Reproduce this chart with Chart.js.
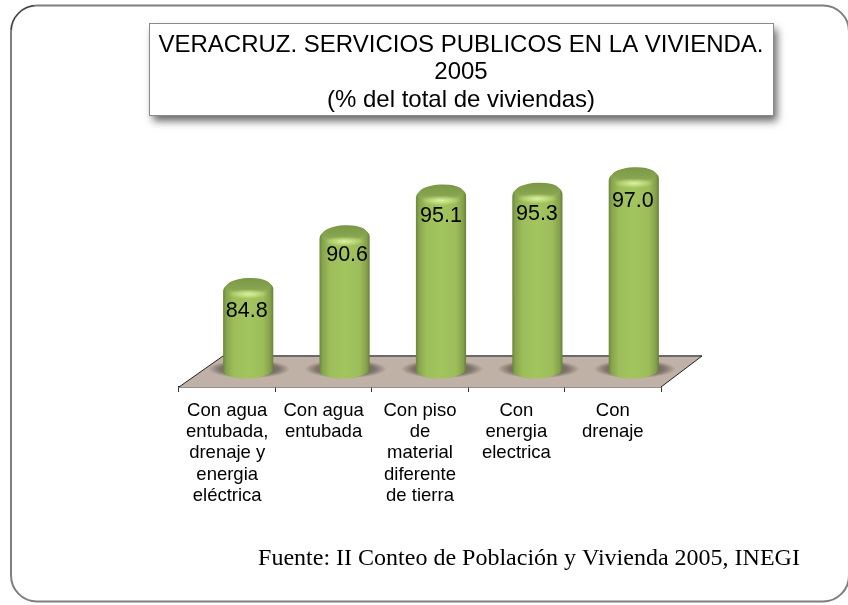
<!DOCTYPE html>
<html><head><meta charset="utf-8">
<style>html,body{margin:0;padding:0;background:#fff;overflow:hidden}#w{width:848px;height:605px;position:relative}</style>
<script src="https://cdn.jsdelivr.net/npm/chart.js@4"></script>
</head><body><div id="w"><canvas id="c" width="848" height="605"></canvas></div>
<script>
const categories = [
  ["Con agua","entubada,","drenaje y","energia","eléctrica"],
  ["Con agua","entubada"],
  ["Con piso","de","material","diferente","de tierra"],
  ["Con","energia","electrica"],
  ["Con","drenaje"]
];
const values = [84.8, 90.6, 95.1, 95.3, 97.0];
const axisMin = 75, axisMax = 100;
const titleLines = ["VERACRUZ. SERVICIOS PUBLICOS EN LA VIVIENDA.","2005","(% del total de viviendas)"];
const sourceNote = "Fuente: II Conteo de Población y Vivienda 2005, INEGI";

const depthX = 21, topLift = 11, baseLift = 17, floorDepth = 31, floorDx = 44, floorDxR = 41;
const labelNudgeX = [-1.5, 2.5, 0, -0.5, -1], labelNudgeY = [24, 21, 23, 22, 25];

const decor = {
  id:'decor',
  afterLayout(chart){
    const t = chart.titleBlock; t.left = 149; t.right = 773; t.top = 6.5;
    const s = chart.boxes.find(b=>b.options&&b.options.text===sourceNote);
    if(s){ s.left = 258; s.right = 800; s.top = 544.6; s.bottom = 573.4; }
  },
  beforeDraw(chart){
    const ctx = chart.ctx;
    ctx.save();
    ctx.fillStyle='#fff';ctx.fillRect(0,0,848,605);
    ctx.lineWidth=2;ctx.strokeStyle='#7f7f7f';
    ctx.beginPath();ctx.roundRect(11,5.5,838,596,26);ctx.stroke();
    ctx.lineWidth=1;ctx.strokeStyle='#333';
    ctx.beginPath();ctx.arc(37,31.5,26,Math.PI*1.02,Math.PI*1.46);ctx.stroke();
    ctx.save();
    ctx.shadowColor='rgba(0,0,0,.6)';ctx.shadowBlur=8;ctx.shadowOffsetX=4;ctx.shadowOffsetY=6;
    ctx.fillStyle='#fff';ctx.fillRect(149,23,624,92);
    ctx.restore();
    ctx.strokeStyle='#8a8a8a';ctx.lineWidth=1;ctx.strokeRect(149.5,23.5,624,92);
    ctx.restore();
  },
  beforeDatasetsDraw(chart){
    const ctx = chart.ctx, a = chart.chartArea;
    const L=a.left,R=a.right,B=a.bottom,T=B-floorDepth;
    ctx.save();
    ctx.beginPath();ctx.moveTo(L,B);ctx.lineTo(L+floorDx,T);ctx.lineTo(R+floorDxR,T);ctx.lineTo(R,B);ctx.closePath();
    ctx.fillStyle='#bfb1a5';ctx.fill();
    ctx.strokeStyle='#6a6a6a';ctx.lineWidth=2;
    ctx.beginPath();ctx.moveTo(L+floorDx,T);ctx.lineTo(R+floorDxR,T);ctx.stroke();
    ctx.strokeStyle='#222';ctx.lineWidth=1;
    ctx.beginPath();ctx.moveTo(L,B);ctx.lineTo(L+floorDx,T);ctx.moveTo(R,B);ctx.lineTo(R+floorDxR,T);ctx.stroke();
    ctx.restore();
  },
  beforeDatasetDraw(chart,args){
    const ctx = chart.ctx, meta = args.meta;
    meta.data.forEach(el=>{
      const cx = el.x+depthX, rx = el.width/2, top = el.y-topLift, bot = el.base-baseLift, ry = 8.5, tilt=-0.045;
      ctx.save();
      // shadow on the floor
      ctx.save();
      ctx.translate(cx+1,bot-1);ctx.scale(1,0.22);
      const sg = ctx.createRadialGradient(0,0,rx*0.5,0,0,rx+16);
      sg.addColorStop(0,'rgba(75,65,60,.75)');sg.addColorStop(.6,'rgba(75,65,60,.55)');sg.addColorStop(1,'rgba(75,65,60,0)');
      ctx.fillStyle=sg;ctx.beginPath();ctx.arc(0,0,rx+16,0,Math.PI*2);ctx.fill();
      ctx.restore();
      // body with rounded shoulders
      const g = ctx.createLinearGradient(cx-rx,0,cx+rx,0);
      g.addColorStop(0,'#6a8639');g.addColorStop(.06,'#86a44c');g.addColorStop(.2,'#9cbd5a');
      g.addColorStop(.5,'#a3c55f');g.addColorStop(.8,'#9cbd5a');g.addColorStop(.94,'#84a04a');g.addColorStop(1,'#66803a');
      ctx.beginPath();
      ctx.ellipse(cx,bot,rx,ry,tilt,0,Math.PI,false);
      ctx.lineTo(cx-rx,top+4);
      ctx.ellipse(cx,top+3,rx,11.5,tilt,Math.PI,Math.PI*2,false);
      ctx.closePath();ctx.fillStyle=g;ctx.fill();
      // top disc
      const cap = ctx.createLinearGradient(0,top-ry,0,top+ry);
      cap.addColorStop(0,'#7b9847');cap.addColorStop(.6,'#87a54f');cap.addColorStop(1,'#a6c765');
      ctx.beginPath();ctx.ellipse(cx,top-1,rx*.88,ry-.5,tilt,0,Math.PI*2);ctx.fillStyle=cap;ctx.fill();
      // bright rim below the disc
      ctx.save();
      ctx.translate(cx,top+7);ctx.scale(1,.24);
      const hl = ctx.createRadialGradient(0,0,0,0,0,rx*.8);
      hl.addColorStop(0,'rgba(222,245,160,.95)');hl.addColorStop(1,'rgba(222,245,160,0)');
      ctx.fillStyle=hl;ctx.beginPath();ctx.arc(0,0,rx*.8,0,Math.PI*2);ctx.fill();
      ctx.restore();
      ctx.restore();
    });
    return false;
  },
  afterDatasetsDraw(chart){
    const ctx = chart.ctx, meta = chart.getDatasetMeta(0);
    ctx.save();
    ctx.font='21.5px "Liberation Sans"';ctx.fillStyle='#000';ctx.textAlign='center';ctx.textBaseline='middle';
    meta.data.forEach((el,i)=>{
      ctx.fillText(values[i].toFixed(1), el.x+depthX+labelNudgeX[i], el.y-topLift+labelNudgeY[i]);
    });
    ctx.restore();
  }
};

Chart.defaults.font.family='"Liberation Sans"';
new Chart(document.getElementById('c'),{
  type:'bar',
  data:{labels:categories,datasets:[{data:values,base:axisMin,backgroundColor:'#a3c55f',barPercentage:.62,categoryPercentage:.84}]},
  options:{
    responsive:false,animation:false,
    layout:{padding:{left:179,right:187,top:0,bottom:0}},
    scales:{
      x:{
        afterFit(s){s.height=189.2;},
        border:{display:true,color:'#222',width:1.5},
        grid:{drawOnChartArea:false,drawTicks:true,tickLength:5,color:'#333',offset:true},
        ticks:{color:'#000',font:{size:18.5,family:'"Liberation Sans"',lineHeight:1.15},maxRotation:0,minRotation:0,autoSkip:false,padding:8}
      },
      y:{display:false,min:axisMin,max:axisMax}
    },
    plugins:{
      legend:{display:false},tooltip:{enabled:false},
      title:{display:true,text:titleLines,color:'#000',align:'center',font:{size:24,weight:'normal',family:'"Liberation Sans"',lineHeight:1.146},padding:{top:25,bottom:52.5}},
      subtitle:{display:true,text:sourceNote,position:'bottom',color:'#000',align:'center',font:{size:24,weight:'normal',family:'"Liberation Serif"',lineHeight:1.2},padding:0}
    }
  },
  plugins:[decor]
});
</script></body></html>
